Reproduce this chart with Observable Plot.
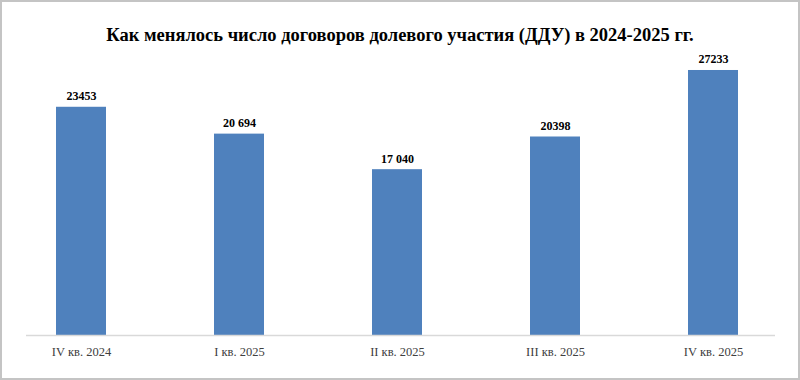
<!DOCTYPE html>
<html><head><meta charset="utf-8">
<script src="https://cdn.jsdelivr.net/npm/d3@7"></script>
<script src="https://cdn.jsdelivr.net/npm/@observablehq/plot@0.6"></script>
<style>
html,body{margin:0;padding:0;background:#fff;}
#frame{position:relative;width:800px;height:380px;box-sizing:border-box;border:2px solid #c4c4c4;background:#fff;overflow:hidden;}
#title{height:45px;box-sizing:border-box;padding-top:24px;text-align:center;font-family:"Liberation Serif","Times New Roman",serif;font-weight:bold;font-size:18.5px;line-height:19px;color:#000;white-space:nowrap;}
#chart svg{display:block;}
</style></head>
<body>
<div id="frame"><div id="title">Как менялось число договоров долевого участия (ДДУ) в 2024-2025 гг.</div><div id="chart"></div></div>
<script>
const categories = ["IV кв. 2024", "I кв. 2025", "II кв. 2025", "III кв. 2025", "IV кв. 2025"];
const values = [23453, 20694, 17040, 20398, 27233];
const valueLabels = ["23453", "20 694", "17 040", "20398", "27233"];

const data = categories.map((c, i) => ({cat: c, v: values[i], lab: valueLabels[i]}));

const chart = Plot.plot({
  width: 796,
  height: 329,
  marginLeft: 24,
  marginRight: 23,
  marginTop: 20,
  marginBottom: 41,
  style: {fontFamily: '"Liberation Serif","Times New Roman",serif', background: "#fff"},
  x: {domain: categories, paddingInner: 0.6845, paddingOuter: 0.205, align: 0.446, label: null, tickSize: 0, tickPadding: 12},
  y: {domain: [0, 27540], axis: null},
  marks: [
    Plot.barY(data, {x: "cat", y: "v", fill: "#4f81bd"}),
    Plot.ruleY([0], {stroke: "#d9d9d9", strokeWidth: 1.5}),
    Plot.text(data, {x: "cat", y: "v", text: "lab", dy: -11, fontWeight: "bold", fontSize: 12, fill: "#000"}),
    Plot.axisX({tickSize: 0, tickPadding: 12, fontSize: 12.5, color: "#404040", label: null})
  ]
});
document.getElementById("chart").appendChild(chart);
</script>
</body></html>
